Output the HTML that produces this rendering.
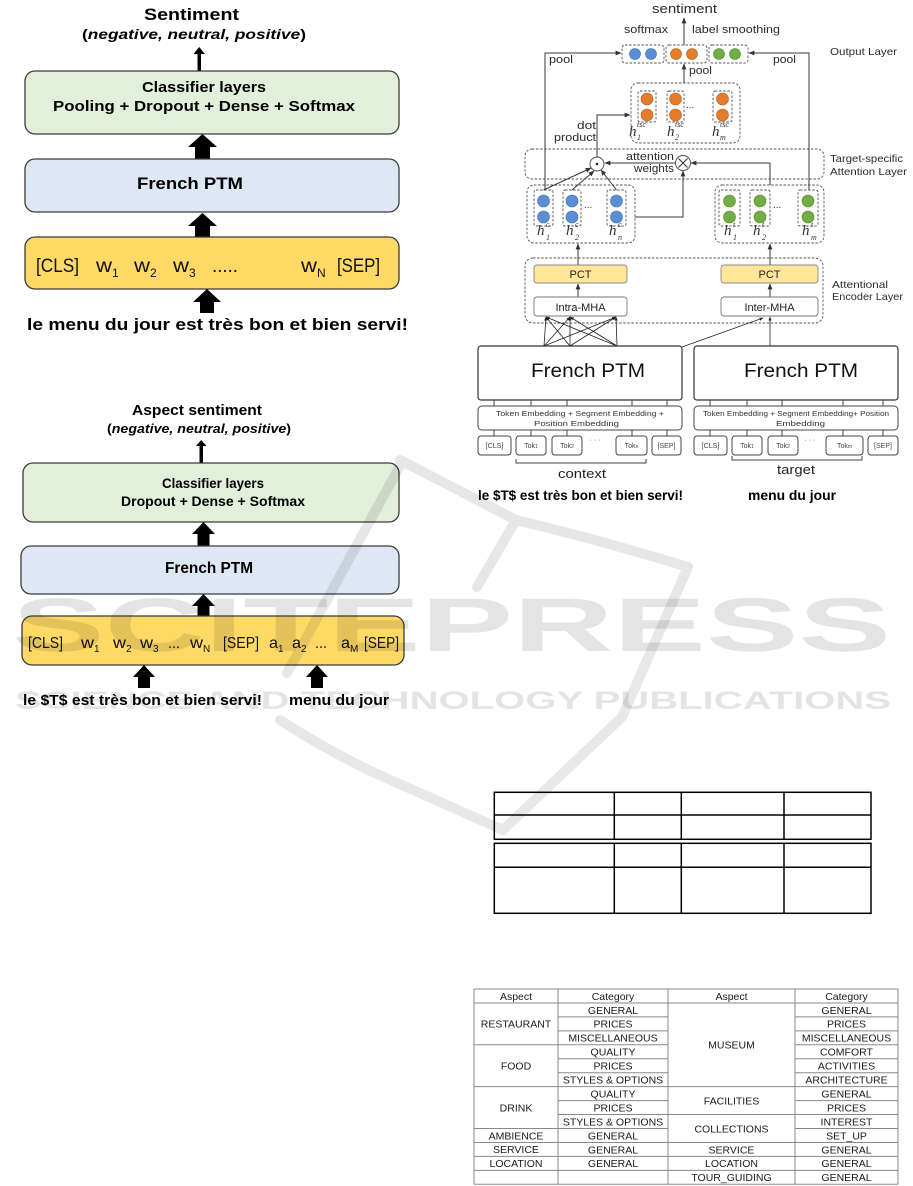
<!DOCTYPE html>
<html><head><meta charset="utf-8"><style>
html,body{margin:0;padding:0;background:#fff;}
svg{display:block;}
</style></head><body>
<svg width="913" height="1186" viewBox="0 0 913 1186" xmlns="http://www.w3.org/2000/svg" font-family="'Liberation Sans', sans-serif">
<defs>
<marker id="ah" viewBox="0 0 10 10" refX="9" refY="5" markerWidth="6" markerHeight="6" orient="auto"><path d="M0,1 L10,5 L0,9 Z" fill="#333"/></marker>
<marker id="as" viewBox="0 0 10 10" refX="9" refY="5" markerWidth="5" markerHeight="5" orient="auto"><path d="M0,1 L10,5 L0,9 Z" fill="#222"/></marker>
</defs>
<rect width="913" height="1186" fill="#fff"/>

<!-- ============ Diagram 1 ============ -->
<g fill="#000">
<text x="144" y="20" font-weight="bold" font-size="17" textLength="95" lengthAdjust="spacingAndGlyphs">Sentiment</text>
<text x="82" y="39" font-weight="bold" font-size="14" textLength="224" lengthAdjust="spacingAndGlyphs">(<tspan font-style="italic">negative, neutral, positive</tspan>)</text>
<rect x="197.5" y="53" width="3.5" height="18"/>
<path d="M193.5,54 L205,54 L199.2,47 Z"/>
</g>
<rect x="25" y="71" width="374" height="63" rx="10" fill="#e2efda" stroke="#3a3a3a" stroke-width="1.3"/>
<text x="142" y="92" font-weight="bold" font-size="15" textLength="124" lengthAdjust="spacingAndGlyphs">Classifier layers</text>
<text x="53" y="111" font-weight="bold" font-size="15" textLength="302" lengthAdjust="spacingAndGlyphs">Pooling + Dropout + Dense + Softmax</text>
<path d="M202.5,134 L217,147 L210,147 L210,159 L195,159 L195,147 L188,147 Z" fill="#000"/>
<rect x="25" y="159" width="374" height="53" rx="10" fill="#dee8f4" stroke="#3a3a3a" stroke-width="1.3"/>
<text x="137" y="189" font-weight="bold" font-size="17" textLength="106" lengthAdjust="spacingAndGlyphs">French PTM</text>
<path d="M202.5,213 L217,226 L210,226 L210,238 L195,238 L195,226 L188,226 Z" fill="#000"/>
<rect x="25" y="237" width="374" height="52" rx="10" fill="#ffd966" stroke="#3a3a3a" stroke-width="1.3"/>
<g font-size="19" fill="#111">
<text x="36" y="272" textLength="43" lengthAdjust="spacingAndGlyphs">[CLS]</text>
<text x="96" y="272" textLength="16" lengthAdjust="spacingAndGlyphs">w</text><text x="112" y="277" font-size="12">1</text>
<text x="134" y="272" textLength="16" lengthAdjust="spacingAndGlyphs">w</text><text x="150" y="277" font-size="12">2</text>
<text x="173" y="272" textLength="16" lengthAdjust="spacingAndGlyphs">w</text><text x="189" y="277" font-size="12">3</text>
<text x="212" y="272" textLength="26" lengthAdjust="spacingAndGlyphs">.....</text>
<text x="301" y="272" textLength="16" lengthAdjust="spacingAndGlyphs">w</text><text x="317" y="277" font-size="12">N</text>
<text x="337" y="272" textLength="43" lengthAdjust="spacingAndGlyphs">[SEP]</text>
</g>
<path d="M207,289 L221,302 L214,302 L214,313 L200,313 L200,302 L193,302 Z" fill="#000"/>
<text x="27" y="330" font-weight="bold" font-size="17" textLength="381" lengthAdjust="spacingAndGlyphs">le menu du jour est très bon et bien servi!</text>

<!-- ============ Diagram 2 ============ -->
<g fill="#000">
<text x="132" y="415" font-weight="bold" font-size="15" textLength="130" lengthAdjust="spacingAndGlyphs">Aspect sentiment</text>
<text x="107" y="433" font-weight="bold" font-size="12.5" textLength="184" lengthAdjust="spacingAndGlyphs">(<tspan font-style="italic">negative, neutral, positive</tspan>)</text>
<rect x="199.5" y="445" width="3.5" height="18"/>
<path d="M196,446 L206.5,446 L201.2,440 Z"/>
</g>
<rect x="23" y="463" width="376" height="59" rx="10" fill="#e2efda" stroke="#3a3a3a" stroke-width="1.3"/>
<text x="162" y="488" font-weight="bold" font-size="14" textLength="102" lengthAdjust="spacingAndGlyphs">Classifier layers</text>
<text x="121" y="506" font-weight="bold" font-size="14" textLength="184" lengthAdjust="spacingAndGlyphs">Dropout + Dense + Softmax</text>
<path d="M203.5,522 L215,534 L209.5,534 L209.5,547 L197.5,547 L197.5,534 L192,534 Z" fill="#000"/>
<rect x="21" y="546" width="378" height="48" rx="10" fill="#dee8f4" stroke="#3a3a3a" stroke-width="1.3"/>
<text x="165" y="573" font-weight="bold" font-size="15.5" textLength="88" lengthAdjust="spacingAndGlyphs">French PTM</text>
<path d="M203.5,594 L215,606 L209.5,606 L209.5,617 L197.5,617 L197.5,606 L192,606 Z" fill="#000"/>
<rect x="22" y="616" width="382" height="49" rx="10" fill="#ffd966" stroke="#3a3a3a" stroke-width="1.3"/>
<g font-size="16" fill="#111">
<text x="28" y="648" textLength="35" lengthAdjust="spacingAndGlyphs">[CLS]</text>
<text x="81" y="648" textLength="13" lengthAdjust="spacingAndGlyphs">w</text><text x="94" y="652" font-size="10">1</text>
<text x="113" y="648" textLength="13" lengthAdjust="spacingAndGlyphs">w</text><text x="126" y="652" font-size="10">2</text>
<text x="140" y="648" textLength="13" lengthAdjust="spacingAndGlyphs">w</text><text x="153" y="652" font-size="10">3</text>
<text x="168" y="648" textLength="12" lengthAdjust="spacingAndGlyphs">...</text>
<text x="190" y="648" textLength="13" lengthAdjust="spacingAndGlyphs">w</text><text x="203" y="652" font-size="10">N</text>
<text x="223" y="648" textLength="36" lengthAdjust="spacingAndGlyphs">[SEP]</text>
<text x="269" y="648" textLength="9" lengthAdjust="spacingAndGlyphs">a</text><text x="278" y="652" font-size="10">1</text>
<text x="292" y="648" textLength="9" lengthAdjust="spacingAndGlyphs">a</text><text x="301" y="652" font-size="10">2</text>
<text x="315" y="648" textLength="12" lengthAdjust="spacingAndGlyphs">...</text>
<text x="341" y="648" textLength="9" lengthAdjust="spacingAndGlyphs">a</text><text x="350" y="652" font-size="10">M</text>
<text x="364" y="648" textLength="35" lengthAdjust="spacingAndGlyphs">[SEP]</text>
</g>
<path d="M144,665 L155,677 L150,677 L150,688 L138,688 L138,677 L133,677 Z" fill="#000"/>
<path d="M317,665 L328,677 L323,677 L323,688 L311,688 L311,677 L306,677 Z" fill="#000"/>
<text x="23" y="705" font-weight="bold" font-size="15" textLength="239" lengthAdjust="spacingAndGlyphs">le $T$ est très bon et bien servi!</text>
<text x="289" y="705" font-weight="bold" font-size="15" textLength="100" lengthAdjust="spacingAndGlyphs">menu du jour</text>

<!-- ============ Right diagram ============ -->
<g fill="#2a2a2a">
<text x="652" y="13" font-size="13" textLength="65" lengthAdjust="spacingAndGlyphs">sentiment</text>
<text x="624" y="33" font-size="11" textLength="44" lengthAdjust="spacingAndGlyphs">softmax</text>
<text x="692" y="33" font-size="11" textLength="88" lengthAdjust="spacingAndGlyphs">label smoothing</text>
<text x="830" y="55" font-size="10.5" textLength="67" lengthAdjust="spacingAndGlyphs">Output Layer</text>
<text x="549" y="63" font-size="11" textLength="24" lengthAdjust="spacingAndGlyphs">pool</text>
<text x="773" y="63" font-size="11" textLength="23" lengthAdjust="spacingAndGlyphs">pool</text>
<text x="689" y="74" font-size="11" textLength="23" lengthAdjust="spacingAndGlyphs">pool</text>
<text x="577" y="129" font-size="11" textLength="19" lengthAdjust="spacingAndGlyphs">dot</text>
<text x="554" y="141" font-size="11" textLength="42" lengthAdjust="spacingAndGlyphs">product</text>
<text x="626" y="160" font-size="11" textLength="48" lengthAdjust="spacingAndGlyphs">attention</text>
<text x="634" y="172" font-size="11" textLength="40" lengthAdjust="spacingAndGlyphs">weights</text>
<text x="830" y="162" font-size="10.5" textLength="73" lengthAdjust="spacingAndGlyphs">Target-specific</text>
<text x="830" y="175" font-size="10.5" textLength="77" lengthAdjust="spacingAndGlyphs">Attention Layer</text>
<text x="832" y="288" font-size="10.5" textLength="56" lengthAdjust="spacingAndGlyphs">Attentional</text>
<text x="832" y="300" font-size="10.5" textLength="71" lengthAdjust="spacingAndGlyphs">Encoder Layer</text>
</g>

<g fill="none" stroke="#555" stroke-width="0.9" stroke-dasharray="2.5,1.6">
<rect x="622" y="45" width="42" height="18" rx="3"/>
<rect x="666" y="45" width="41" height="18" rx="3"/>
<rect x="709" y="45" width="39" height="18" rx="3"/>
<rect x="631" y="83" width="109" height="60" rx="7"/>
<rect x="638" y="91" width="18" height="31" rx="2"/>
<rect x="667" y="91" width="17" height="31" rx="2"/>
<rect x="713" y="91" width="19" height="31" rx="2"/>
<rect x="525" y="149" width="299" height="30" rx="7"/>
<rect x="527" y="185" width="108" height="58" rx="7"/>
<rect x="534" y="190" width="19" height="36" rx="2"/>
<rect x="563" y="190" width="18" height="36" rx="2"/>
<rect x="607" y="190" width="19" height="36" rx="2"/>
<rect x="715" y="185" width="109" height="58" rx="7"/>
<rect x="719" y="190" width="21" height="36" rx="2"/>
<rect x="750" y="190" width="20" height="36" rx="2"/>
<rect x="798" y="190" width="20" height="36" rx="2"/>
<rect x="525" y="258" width="298" height="65" rx="8"/>
</g>

<g stroke-width="0.6">
<circle cx="635" cy="54" r="5.5" fill="#5b8ed6" stroke="#3e6bb0"/>
<circle cx="651" cy="54" r="5.5" fill="#5b8ed6" stroke="#3e6bb0"/>
<circle cx="676" cy="54" r="5.5" fill="#e57c2c" stroke="#b55e1c"/>
<circle cx="692" cy="54" r="5.5" fill="#e57c2c" stroke="#b55e1c"/>
<circle cx="719" cy="54" r="5.5" fill="#72ad45" stroke="#4f8a2c"/>
<circle cx="735" cy="54" r="5.5" fill="#72ad45" stroke="#4f8a2c"/>
<circle cx="647" cy="99" r="6" fill="#e57c2c" stroke="#b55e1c"/>
<circle cx="647" cy="115" r="6" fill="#e57c2c" stroke="#b55e1c"/>
<circle cx="675.5" cy="99" r="6" fill="#e57c2c" stroke="#b55e1c"/>
<circle cx="675.5" cy="115" r="6" fill="#e57c2c" stroke="#b55e1c"/>
<circle cx="722.5" cy="99" r="6" fill="#e57c2c" stroke="#b55e1c"/>
<circle cx="722.5" cy="115" r="6" fill="#e57c2c" stroke="#b55e1c"/>
<circle cx="543.5" cy="201" r="6" fill="#5b8ed6" stroke="#3e6bb0"/>
<circle cx="543.5" cy="217" r="6" fill="#5b8ed6" stroke="#3e6bb0"/>
<circle cx="572" cy="201" r="6" fill="#5b8ed6" stroke="#3e6bb0"/>
<circle cx="572" cy="217" r="6" fill="#5b8ed6" stroke="#3e6bb0"/>
<circle cx="616.5" cy="201" r="6" fill="#5b8ed6" stroke="#3e6bb0"/>
<circle cx="616.5" cy="217" r="6" fill="#5b8ed6" stroke="#3e6bb0"/>
<circle cx="729.5" cy="201" r="6" fill="#72ad45" stroke="#4f8a2c"/>
<circle cx="729.5" cy="217" r="6" fill="#72ad45" stroke="#4f8a2c"/>
<circle cx="760" cy="201" r="6" fill="#72ad45" stroke="#4f8a2c"/>
<circle cx="760" cy="217" r="6" fill="#72ad45" stroke="#4f8a2c"/>
<circle cx="808" cy="201" r="6" fill="#72ad45" stroke="#4f8a2c"/>
<circle cx="808" cy="217" r="6" fill="#72ad45" stroke="#4f8a2c"/>
</g>
<g fill="#333" font-size="10">
<text x="686" y="108">...</text>
<text x="584" y="208">...</text>
<text x="773" y="208">...</text>
</g>

<!-- h labels -->
<g font-family="'Liberation Serif', serif" font-style="italic" fill="#333">
<text x="629" y="136" font-size="15">h</text><text x="637" y="127" font-size="8">tsc</text><text x="637" y="140" font-size="8">1</text>
<text x="667" y="136" font-size="15">h</text><text x="675" y="127" font-size="8">tsc</text><text x="675" y="140" font-size="8">2</text>
<text x="712" y="136" font-size="15">h</text><text x="720" y="127" font-size="8">tsc</text><text x="720" y="140" font-size="8">m</text>
<text x="537" y="235" font-size="15">h</text><text x="546" y="227" font-size="8">c</text><text x="546" y="240" font-size="8">1</text>
<text x="566" y="235" font-size="15">h</text><text x="575" y="227" font-size="8">c</text><text x="575" y="240" font-size="8">2</text>
<text x="609" y="235" font-size="15">h</text><text x="618" y="227" font-size="8">c</text><text x="618" y="240" font-size="8">n</text>
<text x="724" y="235" font-size="15">h</text><text x="733" y="227" font-size="8">t</text><text x="733" y="240" font-size="8">1</text>
<text x="753" y="235" font-size="15">h</text><text x="762" y="227" font-size="8">t</text><text x="762" y="240" font-size="8">2</text>
<text x="802" y="235" font-size="15">h</text><text x="811" y="227" font-size="8">t</text><text x="811" y="240" font-size="8">m</text>
</g>

<!-- connectors -->
<g fill="none" stroke="#3a3a3a" stroke-width="1">
<line x1="684" y1="45" x2="684" y2="18" marker-end="url(#ah)"/>
<line x1="684" y1="83" x2="684" y2="64" marker-end="url(#ah)"/>
<polyline points="545,190 545,53 621,53" marker-end="url(#ah)"/>
<polyline points="809,190 809,53 749,53" marker-end="url(#ah)"/>
<polyline points="597,157 597,115 630,115" marker-end="url(#ah)"/>
<line x1="676" y1="163" x2="605" y2="163" marker-end="url(#ah)"/>
<polyline points="770,185 770,163 691,163" marker-end="url(#ah)"/>
<polyline points="635,217 683,217 683,171" marker-end="url(#ah)"/>
<line x1="543.5" y1="190" x2="591" y2="168" marker-end="url(#ah)"/>
<line x1="572" y1="190" x2="594" y2="171" marker-end="url(#ah)"/>
<line x1="616.5" y1="190" x2="601" y2="170" marker-end="url(#ah)"/>
<line x1="578" y1="265" x2="578" y2="244" marker-end="url(#ah)"/>
<line x1="770" y1="265" x2="770" y2="244" marker-end="url(#ah)"/>
<line x1="578" y1="297" x2="578" y2="284" marker-end="url(#ah)"/>
<line x1="770" y1="297" x2="770" y2="284" marker-end="url(#ah)"/>
</g>
<circle cx="597" cy="164" r="7" fill="#fff" stroke="#444" stroke-width="0.9"/>
<circle cx="597" cy="164" r="1.3" fill="#222"/>
<circle cx="683" cy="163" r="7.5" fill="#fff" stroke="#444" stroke-width="0.9"/>
<path d="M678.5,158.5 L687.5,167.5 M687.5,158.5 L678.5,167.5" stroke="#333" stroke-width="1.1"/>

<!-- crossing lines -->
<g stroke="#222" stroke-width="0.8" fill="none">
<line x1="544" y1="346" x2="546" y2="317" marker-end="url(#as)"/>
<line x1="544" y1="346" x2="570" y2="317" marker-end="url(#as)"/>
<line x1="544" y1="346" x2="616" y2="317" marker-end="url(#as)"/>
<line x1="570" y1="346" x2="546" y2="317" marker-end="url(#as)"/>
<line x1="570" y1="346" x2="570" y2="317" marker-end="url(#as)"/>
<line x1="570" y1="346" x2="616" y2="317" marker-end="url(#as)"/>
<line x1="617" y1="346" x2="546" y2="317" marker-end="url(#as)"/>
<line x1="617" y1="346" x2="570" y2="317" marker-end="url(#as)"/>
<line x1="617" y1="346" x2="616" y2="317" marker-end="url(#as)"/>
<line x1="682" y1="347" x2="763" y2="318" marker-end="url(#as)"/>
<line x1="770" y1="346" x2="770" y2="317" marker-end="url(#as)"/>
</g>

<!-- PCT / MHA -->
<rect x="534" y="265" width="93" height="18" rx="3" fill="#ffe699" stroke="#888" stroke-width="0.9"/>
<rect x="721" y="265" width="97" height="18" rx="3" fill="#ffe699" stroke="#888" stroke-width="0.9"/>
<rect x="534" y="297" width="93" height="19" rx="3" fill="#fff" stroke="#777" stroke-width="0.9"/>
<rect x="721" y="297" width="97" height="19" rx="3" fill="#fff" stroke="#777" stroke-width="0.9"/>
<g fill="#222" font-size="11" text-anchor="middle">
<text x="580.5" y="278">PCT</text>
<text x="769.5" y="278">PCT</text>
<text x="580.5" y="311">Intra-MHA</text>
<text x="769.5" y="311">Inter-MHA</text>
</g>

<!-- PTM boxes -->
<rect x="478" y="346" width="204" height="54" rx="3" fill="#fff" stroke="#333" stroke-width="1.2"/>
<rect x="694" y="346" width="204" height="54" rx="3" fill="#fff" stroke="#333" stroke-width="1.2"/>
<text x="531" y="377" font-size="19" fill="#111" textLength="114" lengthAdjust="spacingAndGlyphs">French PTM</text>
<text x="744" y="377" font-size="19" fill="#111" textLength="114" lengthAdjust="spacingAndGlyphs">French PTM</text>

<g stroke="#444" stroke-width="1">
<path d="M494,400 V406 M531,400 V406 M567,400 V406 M632,400 V406 M667,400 V406"/>
<path d="M710,400 V406 M747,400 V406 M782,400 V406 M843,400 V406 M883,400 V406"/>
<path d="M494,430 V436 M531,430 V436 M567,430 V436 M632,430 V436 M667,430 V436"/>
<path d="M710,430 V436 M747,430 V436 M782,430 V436 M843,430 V436 M883,430 V436"/>
</g>
<rect x="478" y="406" width="204" height="24" rx="4" fill="#fff" stroke="#444" stroke-width="1"/>
<rect x="694" y="406" width="204" height="24" rx="4" fill="#fff" stroke="#444" stroke-width="1"/>
<g fill="#333" font-size="7.5">
<text x="496" y="416" textLength="168" lengthAdjust="spacingAndGlyphs">Token Embedding + Segment Embedding +</text>
<text x="534" y="426" textLength="85" lengthAdjust="spacingAndGlyphs">Position Embedding</text>
<text x="703" y="416" textLength="186" lengthAdjust="spacingAndGlyphs">Token Embedding + Segment Embedding+ Position</text>
<text x="776" y="426" textLength="49" lengthAdjust="spacingAndGlyphs">Embedding</text>
</g>

<!-- token boxes -->
<g fill="#fff" stroke="#444" stroke-width="1">
<rect x="478" y="436" width="33" height="19" rx="3"/>
<rect x="516" y="436" width="30" height="19" rx="3"/>
<rect x="552" y="436" width="30" height="19" rx="3"/>
<rect x="616" y="436" width="31" height="19" rx="3"/>
<rect x="652" y="436" width="29" height="19" rx="3"/>
<rect x="694" y="436" width="33" height="19" rx="3"/>
<rect x="732" y="436" width="30" height="19" rx="3"/>
<rect x="768" y="436" width="30" height="19" rx="3"/>
<rect x="826" y="436" width="37" height="19" rx="3"/>
<rect x="868" y="436" width="30" height="19" rx="3"/>
</g>
<g fill="#444" font-size="7" text-anchor="middle">
<text x="494.5" y="448">[CLS]</text>
<text x="531" y="448">Tok<tspan font-size="5">1</tspan></text>
<text x="567" y="448">Tok<tspan font-size="5">2</tspan></text>
<text x="631.5" y="448">Tok<tspan font-size="5">n</tspan></text>
<text x="666.5" y="448">[SEP]</text>
<text x="710.5" y="448">[CLS]</text>
<text x="747" y="448">Tok<tspan font-size="5">1</tspan></text>
<text x="783" y="448">Tok<tspan font-size="5">2</tspan></text>
<text x="844.5" y="448">Tok<tspan font-size="5">m</tspan></text>
<text x="883" y="448">[SEP]</text>
<text x="595" y="442">· · ·</text>
<text x="810" y="442">· · ·</text>
</g>
<path d="M516,459 V463 H646 V459" fill="none" stroke="#444" stroke-width="1"/>
<path d="M732,456 V460 H862 V456" fill="none" stroke="#444" stroke-width="1"/>
<text x="558" y="478" font-size="13" fill="#222" textLength="48" lengthAdjust="spacingAndGlyphs">context</text>
<text x="777" y="474" font-size="13" fill="#222" textLength="38" lengthAdjust="spacingAndGlyphs">target</text>
<text x="478" y="500" font-weight="bold" font-size="14" textLength="205" lengthAdjust="spacingAndGlyphs">le  $T$ est très bon et bien servi!</text>
<text x="748" y="500" font-weight="bold" font-size="14" textLength="88" lengthAdjust="spacingAndGlyphs">menu du jour</text>

<!-- ============ Empty table ============ -->
<g stroke="#000" stroke-width="1.5" fill="none">
<rect x="494.3" y="792.3" width="376.7" height="47"/>
<line x1="494.3" y1="815" x2="871" y2="815"/>
<line x1="614.3" y1="792.3" x2="614.3" y2="839.3"/>
<line x1="681.3" y1="792.3" x2="681.3" y2="839.3"/>
<line x1="784" y1="792.3" x2="784" y2="839.3"/>
<rect x="494.3" y="843.3" width="376.7" height="70"/>
<line x1="494.3" y1="867.3" x2="871" y2="867.3"/>
<line x1="614.3" y1="843.3" x2="614.3" y2="913.3"/>
<line x1="681.3" y1="843.3" x2="681.3" y2="913.3"/>
<line x1="784" y1="843.3" x2="784" y2="913.3"/>
</g>

<!-- ============ Aspect/Category table ============ -->
<g stroke="#8a8a8a" stroke-width="1" fill="none">
<path d="M474,989 V1184.3 M558,989 V1184.3 M668,989 V1184.3 M795,989 V1184.3 M898,989 V1184.3"/>
<path d="M474,989 H558 M474,1002.95 H558 M474,1044.8 H558 M474,1086.65 H558 M474,1128.5 H558 M474,1142.45 H558 M474,1156.4 H558 M474,1170.35 H558 M474,1184.3 H558"/>
<path d="M558,989 H668 M558,1002.95 H668 M558,1016.9 H668 M558,1030.85 H668 M558,1044.8 H668 M558,1058.75 H668 M558,1072.7 H668 M558,1086.65 H668 M558,1100.6 H668 M558,1114.55 H668 M558,1128.5 H668 M558,1142.45 H668 M558,1156.4 H668 M558,1170.35 H668 M558,1184.3 H668"/>
<path d="M668,989 H795 M668,1002.95 H795 M668,1086.65 H795 M668,1114.55 H795 M668,1142.45 H795 M668,1156.4 H795 M668,1170.35 H795 M668,1184.3 H795"/>
<path d="M795,989 H898 M795,1002.95 H898 M795,1016.9 H898 M795,1030.85 H898 M795,1044.8 H898 M795,1058.75 H898 M795,1072.7 H898 M795,1086.65 H898 M795,1100.6 H898 M795,1114.55 H898 M795,1128.5 H898 M795,1142.45 H898 M795,1156.4 H898 M795,1170.35 H898 M795,1184.3 H898"/>
</g>
<g fill="#1a1a1a" font-size="10.5" text-anchor="middle">
<text x="516" y="1000">Aspect</text>
<text x="613" y="1000">Category</text>
<text x="731.5" y="1000">Aspect</text>
<text x="846.5" y="1000">Category</text>

<text x="516" y="1027.7">RESTAURANT</text>
<text x="516" y="1069.5">FOOD</text>
<text x="516" y="1111.4">DRINK</text>
<text x="516" y="1139.3">AMBIENCE</text>
<text x="516" y="1153.2">SERVICE</text>
<text x="516" y="1167.2">LOCATION</text>

<text x="613" y="1013.75">GENERAL</text>
<text x="613" y="1027.7">PRICES</text>
<text x="613" y="1041.65">MISCELLANEOUS</text>
<text x="613" y="1055.6">QUALITY</text>
<text x="613" y="1069.55">PRICES</text>
<text x="613" y="1083.5">STYLES &amp; OPTIONS</text>
<text x="613" y="1097.45">QUALITY</text>
<text x="613" y="1111.4">PRICES</text>
<text x="613" y="1125.35">STYLES &amp; OPTIONS</text>
<text x="613" y="1139.3">GENERAL</text>
<text x="613" y="1153.25">GENERAL</text>
<text x="613" y="1167.2">GENERAL</text>

<text x="731.5" y="1048.6">MUSEUM</text>
<text x="731.5" y="1104.4">FACILITIES</text>
<text x="731.5" y="1132.3">COLLECTIONS</text>
<text x="731.5" y="1153.25">SERVICE</text>
<text x="731.5" y="1167.2">LOCATION</text>
<text x="731.5" y="1181.15">TOUR_GUIDING</text>

<text x="846.5" y="1013.75">GENERAL</text>
<text x="846.5" y="1027.7">PRICES</text>
<text x="846.5" y="1041.65">MISCELLANEOUS</text>
<text x="846.5" y="1055.6">COMFORT</text>
<text x="846.5" y="1069.55">ACTIVITIES</text>
<text x="846.5" y="1083.5">ARCHITECTURE</text>
<text x="846.5" y="1097.45">GENERAL</text>
<text x="846.5" y="1111.4">PRICES</text>
<text x="846.5" y="1125.35">INTEREST</text>
<text x="846.5" y="1139.3">SET_UP</text>
<text x="846.5" y="1153.25">GENERAL</text>
<text x="846.5" y="1167.2">GENERAL</text>
<text x="846.5" y="1181.15">GENERAL</text>
</g>

<!-- ============ Watermark ============ -->
<g opacity="0.1" fill="#000" stroke="none" font-family="'Liberation Sans', 'DejaVu Sans', sans-serif">
<text x="12" y="651" font-size="76" font-weight="bold" font-family="'Liberation Sans', 'DejaVu Sans', sans-serif" textLength="879" lengthAdjust="spacingAndGlyphs">SCITEPRESS</text>
<text x="15" y="709" font-size="25" font-weight="bold" font-family="'Liberation Sans', 'DejaVu Sans', sans-serif" textLength="876" lengthAdjust="spacingAndGlyphs">SCIENCE AND TECHNOLOGY PUBLICATIONS</text>
</g>
<g opacity="0.09" fill="none" stroke="#000" stroke-width="10" stroke-linecap="round" stroke-linejoin="round">
<path d="M400,460 L516,520 Q600,540 688,567"/>
<path d="M402,462 L287,673"/>
<path d="M516,520 L477,587"/>
<path d="M280,720 Q330,752 375,773 L503,830 L622,717 L688,567"/>
</g>
</svg>
</body></html>
